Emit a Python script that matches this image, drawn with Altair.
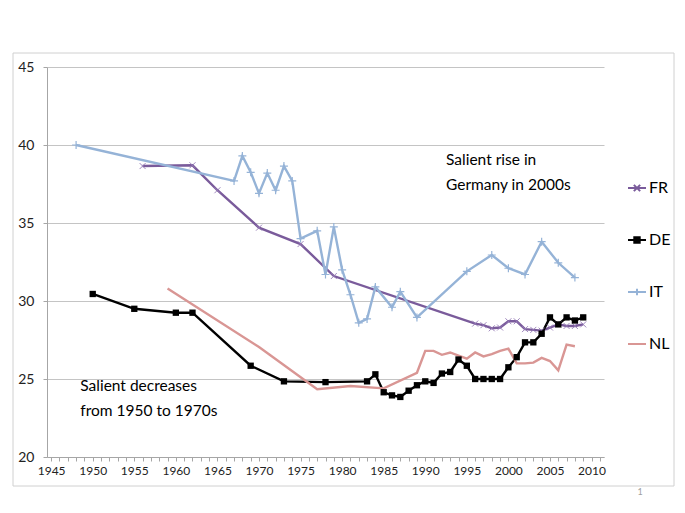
import altair as alt
import pandas as pd

countries = ["FR", "DE", "IT", "NL"]
colors = ["#7A5B9B", "#000000", "#95B3D7", "#D99694"]

fr_years = [1956, 1962, 1965, 1970, 1975, 1979, 1996, 1997, 1998, 1999, 2000, 2001,
            2002, 2003, 2004, 2005, 2006, 2007, 2008, 2009]
fr_vals = [38.65, 38.7, 37.1, 34.7, 33.65, 31.6, 28.55, 28.45, 28.25, 28.3, 28.7, 28.7,
           28.2, 28.15, 28.1, 28.3, 28.5, 28.4, 28.4, 28.5]

de_years = [1950, 1955, 1960, 1962, 1969, 1973, 1978, 1983, 1984, 1985, 1986, 1987, 1988,
            1989, 1990, 1991, 1992, 1993, 1994, 1995, 1996, 1997, 1998, 1999, 2000, 2001,
            2002, 2003, 2004, 2005, 2006, 2007, 2008, 2009]
de_vals = [30.45, 29.5, 29.25, 29.25, 25.85, 24.85, 24.8, 24.85, 25.3, 24.15, 23.95, 23.85,
           24.25, 24.6, 24.85, 24.75, 25.35, 25.45, 26.25, 25.85, 25.0, 25.0, 25.0, 25.0,
           25.75, 26.4, 27.35, 27.35, 27.9, 28.95, 28.5, 28.95, 28.75, 28.95]

it_years = [1948, 1967, 1968, 1969, 1970, 1971, 1972, 1973, 1974, 1975, 1977, 1978, 1979,
            1980, 1981, 1982, 1983, 1984, 1986, 1987, 1989, 1995, 1998, 2000, 2002, 2004,
            2006, 2008]
it_vals = [40.0, 37.7, 39.3, 38.25, 36.9, 38.2, 37.1, 38.65, 37.7, 34.0, 34.5, 31.7, 34.75,
           32.0, 30.4, 28.6, 28.85, 30.9, 29.6, 30.6, 28.95, 31.9, 32.95, 32.1, 31.7, 33.8,
           32.45, 31.5]

nl_years = [1959, 1970, 1977, 1981, 1985, 1989, 1990, 1991, 1992, 1993, 1994, 1995, 1996,
            1997, 1998, 1999, 2000, 2001, 2002, 2003, 2004, 2005, 2006, 2007, 2008]
nl_vals = [30.8, 27.05, 24.35, 24.55, 24.4, 25.4, 26.8, 26.8, 26.55, 26.7, 26.5, 26.3, 26.7,
           26.45, 26.6, 26.8, 26.95, 26.0, 26.0, 26.05, 26.35, 26.15, 25.55, 27.2, 27.1]

note_text = ["Salient rise in", "Germany in 2000s", "Salient decreases", "from 1950 to 1970s"]
note_x = [1992.5, 1992.5, 1948.5, 1948.5]
note_y = [39.05, 37.45, 24.55, 22.95]

rows = []
for c, ys, vs in [("FR", fr_years, fr_vals), ("DE", de_years, de_vals),
                  ("IT", it_years, it_vals), ("NL", nl_years, nl_vals)]:
    for y, v in zip(ys, vs):
        rows.append({"country": c, "year": y, "value": v})
df = pd.DataFrame(rows)
notes = pd.DataFrame({"text": note_text, "year": note_x, "value": note_y})

FONT = "Lato"
xscale = alt.Scale(domain=[1944.5, 2011.5], nice=False, zero=False)
yscale = alt.Scale(domain=[20, 45], nice=False, zero=False)

xaxis = alt.Axis(values=list(range(1945, 2012)), tickCount=200, format="d",
                 labelExpr="datum.value % 5 === 0 ? datum.label : ''",
                 labelOverlap=False, grid=False, tickSize=4, tickColor="#A6A6A6",
                 domainColor="#A6A6A6", labelFont=FONT, labelFontSize=12,
                 labelColor="#222222", labelPadding=4, title=None)
yaxis = alt.Axis(values=[20, 25, 30, 35, 40, 45], grid=True, gridColor="#C4C4C4",
                 tickSize=4, tickColor="#A6A6A6", domainColor="#A6A6A6",
                 labelFont=FONT, labelFontSize=14, labelColor="#222222",
                 labelPadding=9, title=None)

shape_expr = ("datum.value === 'FR' ? 'M-1,0L1,0M-0.35,-0.35L0.35,0.35M-0.35,0.35L0.35,-0.35' : "
              "datum.value === 'DE' ? 'M-1,0L1,0M-0.3,-0.3L0.3,-0.3L0.3,0.3L-0.3,0.3Z' : "
              "datum.value === 'IT' ? 'M-1,0L1,0M0,-0.35L0,0.35' : 'M-1,0L1,0'")
fill_expr = "datum.value === 'DE' ? '#000000' : 'transparent'"

legend = alt.Legend(title=None, orient="none", legendX=580, legendY=111,
                    symbolSize=324, symbolStrokeWidth=2, labelFont=FONT,
                    labelFontSize=16, labelColor="#000000", rowPadding=34,
                    labelOffset=2, padding=0,
                    symbolType=alt.ExprRef(expr=shape_expr),
                    symbolFillColor=alt.ExprRef(expr=fill_expr))

base = alt.Chart(df)

frame = alt.Chart(pd.DataFrame({"a": [0]})).mark_rect(
    fill="transparent", stroke="#D0D0D0", strokeWidth=1
).encode(x=alt.value(-34), x2=alt.value(627), y=alt.value(-14), y2=alt.value(419))

lines = base.mark_line(strokeWidth=2.4).encode(
    x=alt.X("year:Q", scale=xscale, axis=xaxis),
    y=alt.Y("value:Q", scale=yscale, axis=yaxis),
    color=alt.Color("country:N", scale=alt.Scale(domain=countries, range=colors), legend=legend),
)

fr_pts = base.transform_filter("datum.country === 'FR'").mark_point(
    shape="M-1,-1L1,1M-1,1L1,-1", filled=False, size=36, strokeWidth=0.9,
    color="#9479B5", opacity=1
).encode(x="year:Q", y="value:Q")

it_pts = base.transform_filter("datum.country === 'IT'").mark_point(
    shape="M-1,0L1,0M0,-1L0,1", filled=False, size=64, strokeWidth=1.2,
    color="#95B3D7", opacity=1
).encode(x="year:Q", y="value:Q")

de_pts = base.transform_filter("datum.country === 'DE'").mark_square(
    size=40, color="#000000", opacity=1
).encode(x="year:Q", y="value:Q")

text = alt.Chart(notes).mark_text(
    align="left", baseline="middle", font=FONT, fontSize=15.5, color="#000000"
).encode(x="year:Q", y="value:Q", text="text:N")

pagenum = alt.Chart(pd.DataFrame({"t": ["1"]})).mark_text(
    align="center", baseline="middle", font=FONT, fontSize=9, color="#A0A0A0"
).encode(x=alt.value(593), y=alt.value(425), text="t:N")

chart = alt.layer(frame, lines, it_pts, fr_pts, de_pts, text, pagenum).properties(
    width=557, height=390,
    autosize=alt.AutoSizeParams(type="none"),
    padding={"left": 39, "top": 59, "right": 73, "bottom": 48},
    background="white",
).configure_view(stroke=None)

chart.save("out.html", embed_options={"renderer": "svg", "actions": False})
